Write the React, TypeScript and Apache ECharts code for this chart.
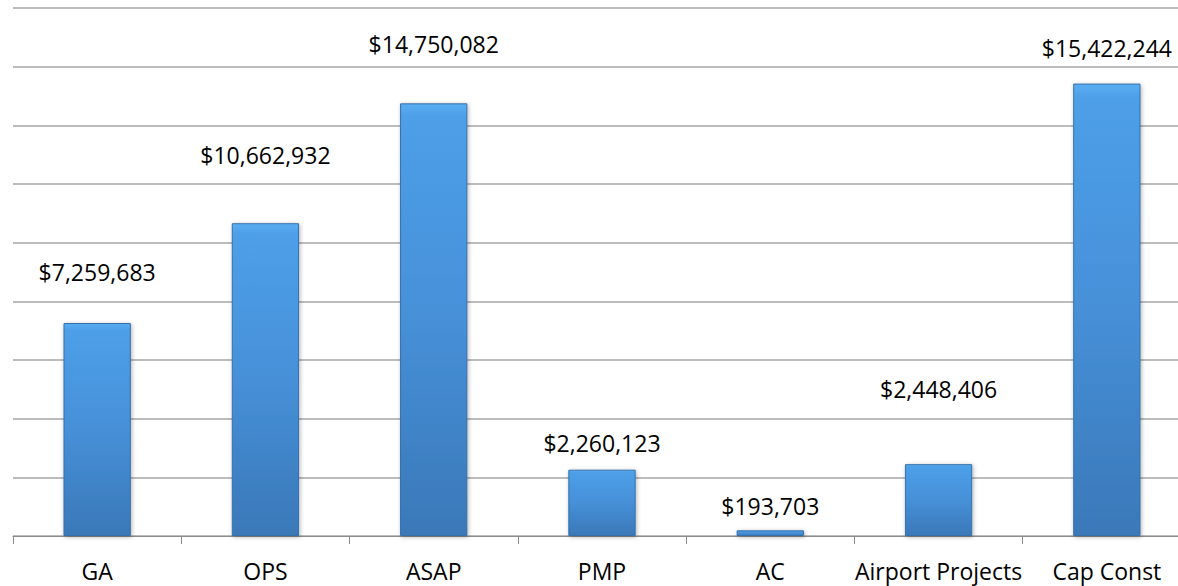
import React, { useEffect, useRef } from "react";
import * as echarts from "echarts";

const categories = ["GA", "OPS", "ASAP", "PMP", "AC", "Airport Projects", "Cap Const"];
const amounts = [7259683, 10662932, 14750082, 2260123, 193703, 2448406, 15422244];
const labelDistances = [40, 57, 48, 15, 13, 64, 24];
const axisMax = 18000000;
const axisInterval = 2000000;

const fmt = (v: number) => "$" + v.toLocaleString("en-US");

export default function App() {
  const ref = useRef<HTMLDivElement>(null);
  useEffect(() => {
    if (!ref.current) return;
    const chart = echarts.init(ref.current, null, { renderer: "svg" });
    const font = "'Open Sans', 'Liberation Sans', sans-serif";
    chart.setOption({
      animation: false,
      backgroundColor: "#ffffff",
      grid: { left: 13, top: 8, width: 1178, height: 528, outerBoundsMode: "none" },
      xAxis: {
        type: "category",
        data: categories,
        axisLine: { show: true, lineStyle: { color: "#8c8c8c", width: 1 } },
        axisTick: { show: true, length: 8, lineStyle: { color: "#8c8c8c" } },
        axisLabel: { color: "#000", fontSize: 23, fontFamily: font, margin: 23, interval: 0 },
      },
      yAxis: {
        type: "value",
        min: 0,
        max: axisMax,
        interval: axisInterval,
        axisLine: { show: false },
        axisTick: { show: false },
        axisLabel: { show: false },
        splitLine: { lineStyle: { color: "#a6a6a6", width: 1.5 } },
      },
      series: [
        {
          type: "bar",
          barWidth: "40%",
          data: amounts.map((v, i) => ({
            value: v,
            label: { distance: labelDistances[i] },
          })),
          itemStyle: {
            color: new echarts.graphic.LinearGradient(0, 0, 0, 1, [
              { offset: 0, color: "#5aaef2" },
              { offset: 0.03, color: "#4d9fe8" },
              { offset: 0.5, color: "#4690d8" },
              { offset: 1, color: "#3a78b8" },
            ]),
            borderColor: "#3570aa",
            borderWidth: 1,
            shadowColor: "rgba(0,0,0,0.3)",
            shadowBlur: 4,
            shadowOffsetX: 1,
            shadowOffsetY: 1,
          },
          label: {
            show: true,
            position: "top",
            color: "#000",
            fontSize: 23,
            fontFamily: font,
            formatter: (p: any) => fmt(p.value),
          },
        },
      ],
    });
    return () => chart.dispose();
  }, []);
  return (
    <div
      ref={ref}
      style={{ position: "fixed", left: 0, top: 0, width: 1178, height: 586 }}
    />
  );
}
